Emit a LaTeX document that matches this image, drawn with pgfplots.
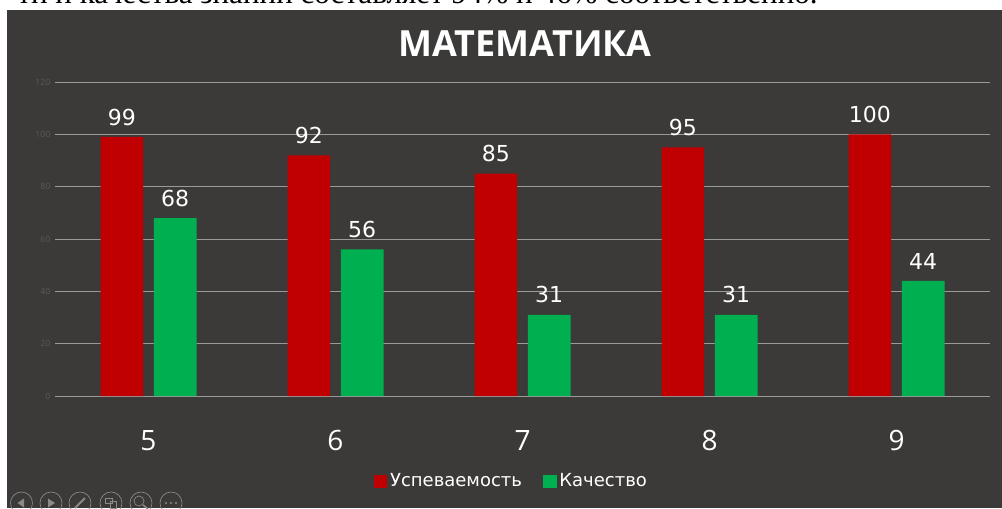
\documentclass[border=0pt]{standalone}
\usepackage{pgfplots}
\usepackage{fontspec}
\setmainfont{Open Sans}
\newfontfamily\serifru{Liberation Serif}
\newfontfamily\dv{DejaVu Sans}
\pgfplotsset{compat=1.18}
\definecolor{panel}{HTML}{3B3A38}
\definecolor{barred}{HTML}{C00000}
\definecolor{bargreen}{HTML}{00B050}
\definecolor{gridc}{HTML}{9A9A98}
\definecolor{ticky}{HTML}{5A5957}
\definecolor{tool}{HTML}{8A8A88}
\begin{document}
\begin{tikzpicture}[x=0.75pt,y=0.75pt]
\path[use as bounding box] (0,0) rectangle (1002,508);
\begin{scope}
\clip (0,0) rectangle (1002,508);
\fill[white] (0,0) rectangle (1002,508);
\node[anchor=base east,font=\serifru\fontsize{23.3}{26}\selectfont,text=black,inner sep=0pt] at (818,504) {ти и качества знаний составляет 94\% и 46\% соответственно.};
\fill[panel] (7,0) rectangle (1002,498);
\end{scope}
\begin{axis}[
  at={(41.25pt,84pt)},anchor=south west,
  scale only axis,width=701.25pt,height=235.5pt,
  xmin=-0.5,xmax=4.5,ymin=0,ymax=120,
  ytick={0,20,...,120},
  xtick={0,1,2,3,4},xticklabels={5,6,7,8,9},
  axis line style={draw=none},
  major tick length=0pt,
  ymajorgrids,
  grid style={gridc,line width=0.6pt},
  yticklabel style={font=\fontsize{6.5}{8}\selectfont,text=ticky},
  /pgf/number format/assume math mode=true,
  xticklabel style={font=\fontsize{21}{25}\selectfont,text=white,yshift=-22pt},
  ybar,
  bar width=32pt,
  nodes near coords,
  nodes near coords style={font=\dv\fontsize{16.5}{19}\selectfont,text=white,inner sep=2.5pt,yshift=6pt},
  title={\textbf{МАТЕМАТИКА}},
  title style={font=\fontsize{27}{31}\selectfont,text=white,at={(0.5,1)},anchor=center,yshift=22.5pt,xshift=2pt},
  legend style={at={(0.5,0)},anchor=center,yshift=-64pt,xshift=-8pt,draw=none,fill=none,text=white,
    font=\dv\fontsize{13.5}{17}\selectfont,legend columns=2,/tikz/every even column/.append style={column sep=14pt}},
  legend image code/.code={\fill[#1] (0pt,-5pt) rectangle (10pt,5pt);},
  clip=false,
]
\addplot[fill=barred,draw=none,bar shift=-20pt] coordinates {(0,99) (1,92) (2,85) (3,95) (4,100)};
\addplot[fill=bargreen,draw=none,bar shift=20pt] coordinates {(0,68) (1,56) (2,31) (3,31) (4,44)};
\legend{Успеваемость,Качество}
\end{axis}
% slide show toolbar
\begin{scope}
\clip (0,0) rectangle (1002,508);
\begin{scope}[draw=tool,line width=0.5pt]
\foreach \c in {21.5,51,80,111,141,171}{\draw (\c,5) circle (11);}
\fill[tool] (17.5,5) -- (24,9.5) -- (24,0.5) -- cycle;
\fill[tool] (55,5) -- (48,9.5) -- (48,0.5) -- cycle;
\draw[line width=1.4pt] (75,0) -- (85,10);
\draw (105,10) rectangle (112,5) (110,7) rectangle (116,0);
\draw (139,7) circle (5);\draw[line width=1.2pt] (143,3) -- (148,-1);
\fill[tool] (166,5) circle (1.2) (171,5) circle (1.2) (176,5) circle (1.2);
\end{scope}
\end{scope}
\end{tikzpicture}
\end{document}
